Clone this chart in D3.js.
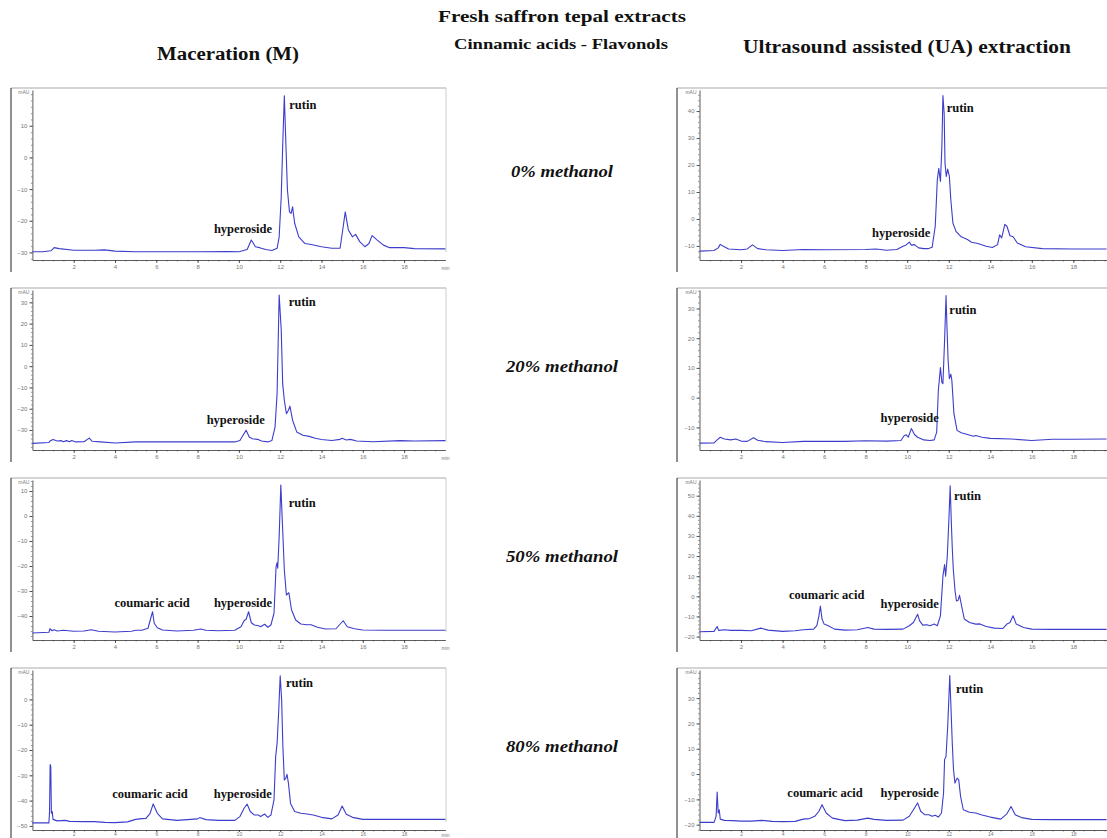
<!DOCTYPE html>
<html lang="en">
  <head>
    <meta charset="utf-8">
    <script type="text/javascript" src="https://d3js.org/d3.v7.min.js"></script>
    <title>Fresh saffron tepal extracts - Cinnamic acids - Flavonols</title>
    <style media="screen">
      body { margin: 0; background: #fff; }
      .tick text { font-family: "Liberation Sans", Arial, sans-serif; font-size: 6px; fill: #777; }
      .axis path, .axis line { stroke: #333; stroke-width: 0.8; }
      .minor line { stroke: #555; stroke-width: 0.6; }
      .title { font-family: "Liberation Serif", "Times New Roman", serif; font-weight: bold; fill: #111; }
      .peak { font-family: "Liberation Serif", "Times New Roman", serif; font-weight: bold; font-size: 12.5px; fill: #111; }
    </style>
  </head>
  <body>
    <script type="text/javascript">

    // chromatograms: [retention time (min), signal (mAU)]
    var macer0 = [[0,-29.8],[0.5,-29.8],[0.9,-29.5],[1.05,-28.5],[1.3,-28.8],[2,-29.3],[3,-29.3],[3.5,-29.2],[4,-29.6],
      [5,-29.8],[8,-29.8],[9.5,-29.7],[10,-29.8],[10.4,-29.1],[10.6,-26.1],[10.8,-28.2],[11,-28.5],[11.3,-29.1],[11.6,-29.4],
      [11.85,-28.7],[11.95,-25.1],[12.05,-12.4],[12.12,3.4],[12.2,19.5],[12.28,3.4],[12.35,-10.3],[12.45,-17.2],
      [12.53,-17.7],[12.6,-15.6],[12.7,-20.8],[12.9,-25.1],[13.2,-27.2],[13.5,-27.5],[14,-28.2],[14.5,-28.7],
      [14.9,-28.7],[15.05,-21.9],[15.15,-17.2],[15.3,-22.9],[15.5,-25.1],[15.65,-24.3],[15.85,-26.6],[16.1,-28.2],
      [16.3,-27.2],[16.45,-24.7],[16.7,-26.1],[17,-27.7],[17.3,-28.5],[18,-28.5],[18.5,-28.8],[20,-28.9]];

    var ultra0 = [[0,-11.9],[0.7,-11.7],[0.9,-10.7],[1.0,-9.4],[1.15,-10.1],[1.4,-11.1],[2,-11.4],[2.3,-11.1],[2.55,-9.6],
      [2.8,-11.0],[3.2,-11.4],[4,-11.7],[5,-11.3],[6,-11.4],[8,-11.3],[8.5,-11.1],[9,-11.6],[9.5,-11.3],[9.8,-10.1],
      [9.95,-9.6],[10.1,-8.6],[10.2,-9.7],[10.35,-9.5],[10.55,-10.7],[10.8,-11.0],[11,-11.0],[11.2,-10.5],[11.35,-2.7],
      [11.45,14.5],[11.52,18.8],[11.6,13.9],[11.67,26.8],[11.72,45.7],[11.78,39.1],[11.82,20.7],[11.88,15.8],
      [11.95,18.5],[12.03,15.8],[12.1,7.1],[12.2,-1.5],[12.35,-4.6],[12.6,-6.6],[12.9,-7.6],[13.1,-8.6],[13.4,-9.1],
      [13.8,-10.1],[14.1,-10.6],[14.35,-9.5],[14.45,-5.9],[14.55,-7.0],[14.7,-2.0],[14.8,-2.7],[14.95,-6.2],
      [15.1,-6.6],[15.3,-8.9],[15.7,-10.3],[16.5,-11.0],[18,-11.1],[19.6,-11.1]];

    var macer20 = [[0,-36.3],[0.8,-35.9],[0.85,-35.2],[1.0,-34.5],[1.2,-35.2],[1.4,-35.0],[1.5,-35.5],[1.65,-35.0],
      [1.8,-35.5],[1.9,-34.9],[2.1,-35.6],[2.5,-35.5],[2.75,-33.8],[2.9,-35.3],[3.3,-35.6],[4,-36.1],[5,-35.6],
      [8,-35.6],[9.8,-35.6],[10.05,-34.9],[10.2,-32.5],[10.35,-30.1],[10.5,-33.3],[10.65,-34.1],[10.9,-34.4],
      [11.1,-35.2],[11.4,-35.6],[11.6,-34.9],[11.75,-28.6],[11.85,-12.9],[11.95,33.4],[12.05,17.0],[12.12,-8.2],
      [12.2,-16.0],[12.3,-22.3],[12.4,-20.7],[12.47,-18.8],[12.6,-25.4],[12.8,-30.9],[13.1,-32.5],[13.4,-33.0],
      [13.7,-33.9],[14,-34.5],[14.5,-34.9],[14.9,-34.4],[15.0,-33.9],[15.2,-34.7],[15.4,-34.4],[15.7,-35.2],
      [16.5,-35.5],[17.8,-35.0],[18.5,-35.2],[20,-35.0]];

    var ultra20 = [[0,-15.3],[0.7,-15.2],[0.85,-14.2],[1.0,-13.3],[1.2,-13.9],[1.5,-14.2],[1.75,-13.9],[2.0,-14.6],
      [2.3,-14.7],[2.6,-13.5],[2.8,-14.3],[3.2,-14.8],[4,-15.1],[5,-14.7],[6,-14.7],[7,-14.7],[8,-14.5],[9,-14.6],
      [9.7,-14.4],[9.85,-12.8],[9.95,-12.5],[10.05,-13.3],[10.2,-10.4],[10.35,-12.4],[10.5,-13.3],[10.8,-14.2],
      [11.1,-14.4],[11.3,-14.2],[11.42,-11.6],[11.5,2.5],[11.6,10.1],[11.67,5.1],[11.72,4.7],[11.8,19.3],
      [11.87,34.3],[11.92,22.7],[11.97,12.6],[12.03,6.4],[12.1,7.9],[12.15,5.8],[12.25,-5.4],[12.4,-11.0],
      [12.6,-11.8],[12.9,-12.4],[13.2,-13.0],[13.3,-12.7],[13.6,-13.3],[14,-13.7],[15,-13.9],[16,-14.4],
      [17,-14.0],[18,-14.0],[19.6,-13.9]];

    var macer50 = [[0,-46.8],[0.8,-46.5],[0.85,-45.1],[0.95,-45.9],[1.05,-45.5],[1.2,-46.0],[1.5,-45.7],[2,-46.1],
      [2.5,-46.0],[2.85,-45.5],[3.2,-46.1],[4,-46.4],[4.8,-46.1],[5.0,-45.7],[5.3,-45.7],[5.6,-44.9],[5.75,-40.3],
      [5.82,-38.3],[5.9,-42.9],[6.05,-44.7],[6.3,-45.6],[7,-46.0],[7.8,-45.7],[8.15,-45.2],[8.4,-45.7],[9,-45.9],
      [9.8,-45.7],[10.1,-44.3],[10.25,-41.9],[10.35,-41.3],[10.47,-38.3],[10.6,-42.7],[10.75,-43.6],[10.95,-43.9],
      [11.05,-44.3],[11.25,-43.3],[11.4,-44.5],[11.55,-43.6],[11.7,-38.9],[11.8,-20.3],[11.85,-18.7],[11.88,-20.9],
      [11.95,-8.3],[12.03,12.4],[12.1,-1.6],[12.2,-21.6],[12.3,-31.6],[12.42,-30.7],[12.55,-37.6],[12.75,-41.6],
      [13,-43.2],[13.3,-43.5],[13.5,-43.5],[13.8,-44.5],[14.2,-45.2],[14.7,-45.1],[14.85,-43.7],[15.05,-41.9],
      [15.25,-44.3],[15.6,-45.1],[16,-45.6],[17,-45.7],[18,-45.7],[20,-45.7]];

    var ultra50 = [[0,-17.6],[0.7,-17.4],[0.85,-15.0],[0.92,-16.9],[1.2,-16.6],[1.5,-16.9],[2,-16.9],[2.5,-17.1],
      [2.95,-15.8],[3.3,-16.8],[4,-17.4],[4.6,-17.1],[5.0,-16.6],[5.5,-16.3],[5.65,-14.6],[5.75,-9.7],[5.82,-4.8],
      [5.9,-11.3],[6.0,-13.8],[6.2,-14.6],[6.5,-16.3],[7,-16.8],[7.6,-16.6],[8.1,-15.5],[8.4,-16.3],[9,-16.4],
      [9.8,-16.3],[10.1,-14.6],[10.3,-13.0],[10.5,-8.9],[10.6,-12.2],[10.75,-14.3],[10.95,-14.1],[11.1,-14.6],
      [11.3,-13.8],[11.45,-14.6],[11.6,-9.7],[11.72,10.0],[11.8,15.8],[11.85,10.0],[11.93,19.9],[12.0,36.3],
      [12.07,54.9],[12.12,38.0],[12.17,24.0],[12.22,13.3],[12.3,3.0],[12.37,-2.3],[12.45,-2.0],[12.52,0.5],
      [12.62,-4.8],[12.75,-11.3],[13,-13.0],[13.3,-13.8],[13.5,-13.7],[13.8,-15.0],[14.2,-15.8],[14.6,-16.0],
      [14.8,-13.8],[14.95,-13.0],[15.1,-9.7],[15.25,-13.8],[15.6,-15.5],[16,-16.3],[17,-16.4],[18,-16.4],[19.6,-16.4]];

    var macer80 = [[0,-48.8],[0.8,-48.8],[0.83,-44.3],[0.86,-25.7],[0.89,-26.6],[0.92,-45.0],[0.96,-44.3],[1.0,-47.4],
      [1.2,-48.0],[1.6,-47.8],[1.8,-48.2],[2.5,-48.3],[3,-48.3],[3.5,-48.6],[4,-48.7],[4.6,-48.4],[5.0,-47.4],
      [5.3,-47.1],[5.5,-47.0],[5.7,-45.0],[5.85,-41.3],[6.05,-45.0],[6.3,-47.2],[7,-47.8],[8,-47.2],[8.1,-46.7],
      [8.4,-47.5],[9,-47.8],[9.8,-47.8],[10.05,-46.3],[10.25,-43.0],[10.4,-41.4],[10.55,-44.3],[10.75,-45.7],
      [10.95,-45.7],[11.05,-46.3],[11.25,-45.3],[11.4,-46.6],[11.55,-45.7],[11.7,-39.7],[11.78,-22.6],[11.85,-17.4],
      [11.93,-4.2],[12.0,9.3],[12.07,-0.3],[12.13,-18.7],[12.2,-31.8],[12.27,-31.2],[12.33,-29.6],[12.4,-33.2],
      [12.5,-41.1],[12.7,-44.3],[13,-45.0],[13.3,-45.3],[13.6,-45.7],[14,-46.6],[14.5,-47.2],[14.8,-45.7],
      [15.0,-42.1],[15.2,-45.4],[15.5,-46.6],[16,-47.4],[17,-47.4],[18,-47.4],[20,-47.4]];

    var ultra80 = [[0,-19.1],[0.7,-19.1],[0.8,-16.7],[0.85,-7.1],[0.9,-15.4],[0.95,-14.1],[1.0,-17.8],[1.2,-18.3],
      [1.6,-18.4],[2.0,-18.6],[2.5,-18.6],[3,-18.3],[3.5,-18.7],[4,-18.8],[4.6,-18.7],[5.0,-17.8],[5.3,-17.6],
      [5.55,-16.7],[5.75,-14.7],[5.9,-12.1],[6.1,-15.4],[6.4,-17.4],[7,-18.4],[7.6,-18.2],[8.1,-17.4],[8.4,-17.9],
      [9,-18.3],[9.8,-18.2],[10.1,-16.7],[10.3,-14.1],[10.5,-11.4],[10.65,-14.7],[10.85,-16.1],[11.05,-16.1],
      [11.2,-16.7],[11.35,-16.3],[11.5,-17.0],[11.65,-15.4],[11.75,-7.5],[11.8,5.7],[11.87,7.0],[11.95,18.8],
      [12.05,38.9],[12.1,28.0],[12.17,12.2],[12.23,1.7],[12.3,-3.6],[12.4,-1.6],[12.48,-2.2],[12.57,-8.8],
      [12.7,-14.1],[13,-15.1],[13.3,-15.4],[13.6,-16.2],[14,-17.0],[14.5,-17.8],[14.8,-15.7],[15.0,-12.8],
      [15.2,-16.1],[15.5,-17.2],[16,-17.9],[17,-18.0],[18,-18.0],[19.6,-18.0]];

    // peak names: [label, time, signal] of the text start
    var macer0Labels = [["hyperoside",8.79,-23.8],["rutin",12.44,15.2]];
    var ultra0Labels = [["hyperoside",8.31,-6.6],["rutin",11.9,39.5]];
    var macer20Labels = [["hyperoside",8.44,-27.1],["rutin",12.41,28.3]];
    var ultra20Labels = [["hyperoside",8.72,-8.1],["rutin",12.03,28.0]];
    var macer50Labels = [["coumaric acid",3.97,-36.3],["hyperoside",8.79,-36.3],["rutin",12.41,3.5]];
    var ultra50Labels = [["coumaric acid",4.31,-1.1],["hyperoside",8.72,-5.7],["rutin",12.25,47.9]];
    var macer80Labels = [["coumaric acid",3.87,-39.1],["hyperoside",8.78,-39.1],["rutin",12.28,5.0]];
    var ultra80Labels = [["coumaric acid",4.23,-8.9],["hyperoside",8.72,-8.9],["rutin",12.35,32.0]];

    // y axis ranges and labelled ticks of each chromatogram
    var macerDomains = [[-32.4,21.3],[-39.4,35.8],[-49.6,14.4],[-51.6,11.6]];
    var ultraDomains = [[-15.2,47.8],[-17.6,36.2],[-21.7,57.8],[-22.1,41.1]];
    var macerTicks = [[10,0,-10,-20,-30],[30,20,10,0,-10,-20,-30],[10,0,-10,-20,-30,-40],[0,-10,-20,-30,-40,-50]];
    var ultraTicks = [[40,30,20,10,0,-10],[30,20,10,0,-10],[50,40,30,20,10,0,-10,-20],[30,20,10,0,-10,-20]];
    var timeTicks = [2,4,6,8,10,12,14,16,18];
    var solvents = ["0% methanol","20% methanol","50% methanol","80% methanol"];

    var width = 1107, height = 838;

    // layout of the grid
    var rowTop = [88, 288, 478, 668],
        rowAxis = [260, 450, 640, 830];
    var cols = [
      {frameLeft: 11, frameRight: 446, axisLeft: 32.4, pxPerMin: 20.65},
      {frameLeft: 677, frameRight: 1120, axisLeft: 699.5, pxPerMin: 20.77}
    ];

    var panels = [];
    var macerData = [macer0, macer20, macer50, macer80],
        ultraData = [ultra0, ultra20, ultra50, ultra80],
        macerLabels = [macer0Labels, macer20Labels, macer50Labels, macer80Labels],
        ultraLabels = [ultra0Labels, ultra20Labels, ultra50Labels, ultra80Labels];
    for (var r = 0; r < 4; r++) {
      panels.push({row: r, col: 0, data: macerData[r], domain: macerDomains[r], ticks: macerTicks[r], labels: macerLabels[r]});
      panels.push({row: r, col: 1, data: ultraData[r], domain: ultraDomains[r], ticks: ultraTicks[r], labels: ultraLabels[r]});
    }

    var svg = d3.select("body")
      .append("svg")
        .attr("width", width)
        .attr("height", height);

    // headings
    function title(txt, x, y, size, len, italic) {
      svg.append("text")
        .attr("class", "title")
        .attr("x", x)
        .attr("y", y)
        .attr("text-anchor", "middle")
        .style("font-size", size + "px")
        .style("font-style", italic ? "italic" : "normal")
        .attr("textLength", len)
        .attr("lengthAdjust", "spacingAndGlyphs")
        .text(txt);
    }
    title("Fresh saffron tepal extracts", 562, 22, 17.5, 248);
    title("Cinnamic acids - Flavonols", 561, 49, 14.5, 214);
    title("Maceration (M)", 228, 60, 18, 142);
    title("Ultrasound assisted (UA) extraction", 907, 53, 18, 328);

    solvents.forEach(function(s, i) {
      title(s, 562, [177, 372, 562, 752][i], 16.5, i === 0 ? 102 : 112, true);
    });

    function draw(p) {
      var c = cols[p.col],
          top = rowTop[p.row],
          bottom = rowAxis[p.row],
          lastRow = p.row === rowTop.length - 1;

      var x = d3.scaleLinear()
          .domain([0, 20])
          .range([c.axisLeft, c.axisLeft + 20 * c.pxPerMin]);
      var y = d3.scaleLinear()
          .domain(p.domain)
          .range([bottom, top + 2]);

      var g = svg.append("g");

      // frame of the instrument printout
      g.append("line")
        .attr("x1", c.frameLeft).attr("x2", c.frameRight)
        .attr("y1", top).attr("y2", top)
        .attr("stroke", "#aaa").attr("stroke-width", 1);
      g.append("line")
        .attr("x1", c.frameRight).attr("x2", c.frameRight)
        .attr("y1", top).attr("y2", bottom - 8)
        .attr("stroke", "#ccc").attr("stroke-width", 1);
      g.append("line")
        .attr("x1", c.frameLeft).attr("x2", c.frameLeft)
        .attr("y1", top).attr("y2", bottom + 12)
        .attr("stroke", "#222").attr("stroke-width", 1);

      // minor ticks, no labels
      var tEnd = Math.min(20, x.invert(width));
      var minorY = g.append("g")
        .attr("class", "minor")
        .attr("transform", "translate(" + c.axisLeft + ",0)")
        .call(d3.axisLeft(y).tickValues(d3.range(Math.ceil(p.domain[0] / 2) * 2, p.domain[1], 2)).tickSize(1.5));
      var minorX = g.append("g")
        .attr("class", "minor")
        .attr("transform", "translate(0," + bottom + ")")
        .call(d3.axisBottom(x).tickValues(d3.range(0.5, tEnd, 0.5)).tickSize(1.5));
      [minorY, minorX].forEach(function(a) {
        a.select(".domain").remove();
        a.selectAll("text").remove();
      });

      var visibleTimes = timeTicks.filter(function(t) { return x(t) < width - 6; });

      g.append("g")
        .attr("class", "axis")
        .attr("transform", "translate(" + c.axisLeft + ",0)")
        .call(d3.axisLeft(y).tickValues(p.ticks).tickSize(3).tickSizeOuter(0).tickPadding(2));

      var xAxis = g.append("g")
        .attr("class", "axis")
        .attr("transform", "translate(0," + bottom + ")")
        .call(d3.axisBottom(x).tickValues(visibleTimes)
          .tickSize(lastRow ? 2 : 3).tickSizeOuter(0).tickPadding(lastRow ? 0.5 : 2));
      if (lastRow) xAxis.selectAll("text").style("font-size", "5px");

      g.append("text")
        .attr("x", c.axisLeft - 3)
        .attr("y", top + 6)
        .attr("text-anchor", "end")
        .style("font-family", "Liberation Sans, Arial, sans-serif")
        .style("font-size", "5px")
        .style("fill", "#777")
        .text("mAU");

      if (x(20) < width) {
        g.append("text")
          .attr("x", x(20) - 4)
          .attr("y", bottom + (lastRow ? 7 : 10))
          .style("font-family", "Liberation Sans, Arial, sans-serif")
          .style("font-size", "5px")
          .style("fill", "#777")
          .text("min");
      }

      var line = d3.line()
          .x(function(d) { return x(d[0]); })
          .y(function(d) { return y(d[1]); });

      g.append("path")
        .datum(p.data)
        .attr("d", line)
        .attr("fill", "none")
        .attr("stroke", "#3d3dcc")
        .attr("stroke-width", 1.1)
        .attr("stroke-linejoin", "round");

      g.selectAll(".peak")
        .data(p.labels)
        .enter()
        .append("text")
          .attr("class", "peak")
          .attr("x", function(d) { return x(d[1]); })
          .attr("y", function(d) { return y(d[2]); })
          .text(function(d) { return d[0]; });
    }

    panels.forEach(draw);

    </script>
  </body>
</html>
